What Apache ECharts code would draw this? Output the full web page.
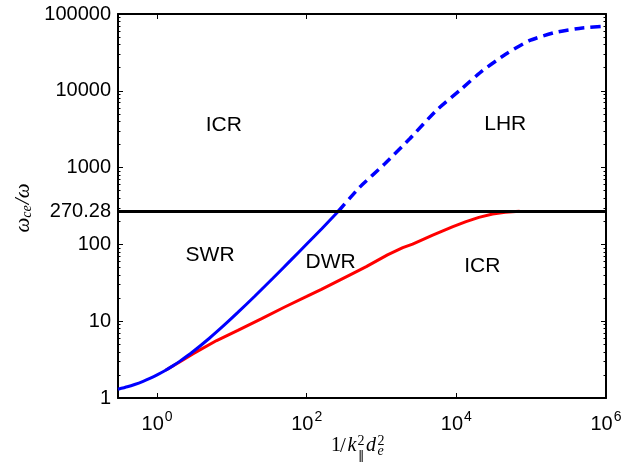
<!DOCTYPE html>
<html>
<head>
<meta charset="utf-8">
<script src="https://cdn.jsdelivr.net/npm/echarts@6/dist/echarts.min.js"></script>
<style>
  html, body { margin: 0; padding: 0; background: #fff; }
  #chart { width: 621px; height: 466px; }
</style>
</head>
<body>
<div id="chart"></div>
<script>
// blue solid branch (SWR / DWR), ends on the 270.28 line
const swrX = [0.3, 0.4, 0.5, 0.65, 0.8, 1, 1.3, 1.6, 2, 3, 5, 8, 12, 20, 35, 60, 100, 160, 265];
const swrY = [1.3, 1.4, 1.5, 1.65, 1.8, 2, 2.3, 2.6, 3, 4, 6, 9, 13, 21, 36, 61, 101, 161, 270.28];
// blue dashed continuation towards LHR
const lhrX = [265, 509, 1096, 2362, 5360, 10965, 22400, 46000, 94000, 213000, 483000, 1000000];
const lhrY = [270.28, 554, 1114, 2357, 5510, 10020, 18300, 30100, 44900, 57800, 65700, 69200];
// red branch
const redX = [1.3, 2, 3, 6.25, 12, 25, 50, 100, 157, 374, 625, 1200, 1923, 2600, 4830, 9000, 13460, 20000, 30500, 45000, 62500, 70000];
const redY = [2.3, 2.95, 3.75, 5.6, 7.6, 10.8, 15.2, 21, 26, 39.9, 51.3, 73, 90.6, 101, 132, 170, 198, 225, 249, 262, 268, 270];

const icrLevel = 270.28;

// tick values
const xTicks = [1, 100, 10000];
const xLabels = [1, 100, 10000, 1000000];
const yLabels = [1, 10, 100, 270.28, 1000, 10000, 100000];
const yMajor = [1, 10, 100, 1000, 10000, 100000];
const yMinor = [];
[1, 10, 100, 1000, 10000].forEach(d => {
  for (let m = 2; m <= 9; m++) yMinor.push(m * d);
});

// region annotations
const regionNames = ['ICR', 'LHR', 'SWR', 'DWR', 'ICR'];
const regionX = [7.8, 45000, 5.1, 209, 22200];
const regionY = [3590, 3700, 72.8, 59, 52.3];

const zip = (a, b) => a.map((v, i) => [v, b[i]]);
const sans = 'Liberation Sans';
const serif = 'Liberation Serif';

function xAxisCfg(pos) {
  return {
    type: 'log', logBase: 10, min: 0.3, max: 1000000, position: pos,
    axisLine: { show: true, onZero: false, lineStyle: { color: '#000', width: 2 } },
    axisTick: { show: true, inside: true, length: 5, customValues: xTicks, lineStyle: { color: '#000', width: 1 } },
    axisLabel: {
      show: pos === 'bottom', customValues: xLabels, margin: 12, color: '#000',
      formatter: v => '{b|10}{sup|' + Math.round(Math.log10(v)) + '}',
      rich: {
        b: { fontSize: 20, fontFamily: sans, color: '#000' },
        sup: { fontSize: 14, fontFamily: sans, color: '#000', padding: [0, 0, 14, 1] }
      }
    },
    splitLine: { show: false }, minorTick: { show: false }
  };
}

function yAxisCfg(pos, minor) {
  return {
    type: 'log', logBase: 10, min: 1, max: 100000, position: pos,
    axisLine: { show: !minor, onZero: false, lineStyle: { color: '#000', width: 2 } },
    axisTick: { show: true, inside: true, length: minor ? 2.5 : 5, customValues: minor ? yMinor : yMajor, lineStyle: { color: '#000', width: 1 } },
    axisLabel: {
      show: pos === 'left' && !minor, customValues: yLabels, margin: 7, color: '#000',
      fontSize: 20, fontFamily: sans,
      formatter: v => (v === icrLevel ? '270.28' : String(Math.round(v)))
    },
    splitLine: { show: false }, minorTick: { show: false }
  };
}

// small helper for the math-style axis titles
function tx(text, x, y, font, align) {
  return { type: 'text', x: x, y: y, silent: true,
    style: { text: text, font: font, fill: '#000', align: align || 'left', verticalAlign: 'middle' } };
}

const chart = echarts.init(document.getElementById('chart'), null, { renderer: 'canvas' });
chart.setOption({
  animation: false,
  backgroundColor: '#fff',
  grid: { left: 118, right: 15, top: 14, bottom: 68, containLabel: false, outerBoundsMode: 'none' },
  xAxis: [xAxisCfg('bottom'), xAxisCfg('top')],
  yAxis: [yAxisCfg('left', false), yAxisCfg('left', true), yAxisCfg('right', false), yAxisCfg('right', true)],
  graphic: [
    {
      type: 'text', x: 23, y: 208, rotation: Math.PI / 2, silent: true,
      style: {
        text: '{i|ω}{s|ce}{i|/ω}', align: 'center', verticalAlign: 'middle',
        rich: {
          i: { fontSize: 21, fontFamily: serif, fontStyle: 'italic', fill: '#000' },
          s: { fontSize: 14, fontFamily: serif, fontStyle: 'italic', fill: '#000', padding: [9, 1, 0, 0] }
        }
      }
    },
    tx('1', 331, 446, '20px "Liberation Serif"'),
    tx('/', 340, 446, '21px "Liberation Serif"'),
    tx('k', 347.5, 446, 'italic 20px "Liberation Serif"'),
    tx('2', 357.5, 441.5, '14px "Liberation Serif"'),
    tx('∥', 361.5, 458, '13px "DejaVu Serif"', 'center'),
    tx('d', 366, 446, 'italic 20px "Liberation Serif"'),
    tx('2', 377.5, 441.5, '14px "Liberation Serif"'),
    tx('e', 377.5, 451.5, 'italic 14px "Liberation Serif"')
  ],
  series: [
    {
      name: 'swr', type: 'line', xAxisIndex: 0, yAxisIndex: 0,
      data: zip(swrX, swrY), showSymbol: false, symbol: 'none', smooth: 0.2,
      lineStyle: { color: '#0000ff', width: 3 }, z: 3
    },
    {
      name: 'lhr', type: 'line', xAxisIndex: 0, yAxisIndex: 0,
      data: zip(lhrX, lhrY), showSymbol: false, symbol: 'none', smooth: 0.2,
      lineStyle: { color: '#0000ff', width: 3.5, type: [10, 6] }, z: 3
    },
    {
      name: 'red', type: 'line', xAxisIndex: 0, yAxisIndex: 0,
      data: zip(redX, redY), showSymbol: false, symbol: 'none',
      lineStyle: { color: '#ff0000', width: 3 }, z: 2,
      markLine: {
        silent: true, symbol: 'none', animation: false,
        label: { show: false },
        lineStyle: { color: '#000', width: 3, type: 'solid' },
        data: [{ yAxis: icrLevel }]
      }
    },
    {
      name: 'regions', type: 'scatter', xAxisIndex: 0, yAxisIndex: 0,
      data: regionNames.map((n, i) => ({ name: n, value: [regionX[i], regionY[i]] })),
      symbolSize: 1, itemStyle: { color: 'rgba(0,0,0,0)' }, silent: true,
      label: {
        show: true, position: 'inside', formatter: '{b}', fontSize: 21, fontFamily: sans,
        color: '#000', opacity: 1, textBorderWidth: 0
      }
    }
  ]
});
</script>
</body>
</html>
